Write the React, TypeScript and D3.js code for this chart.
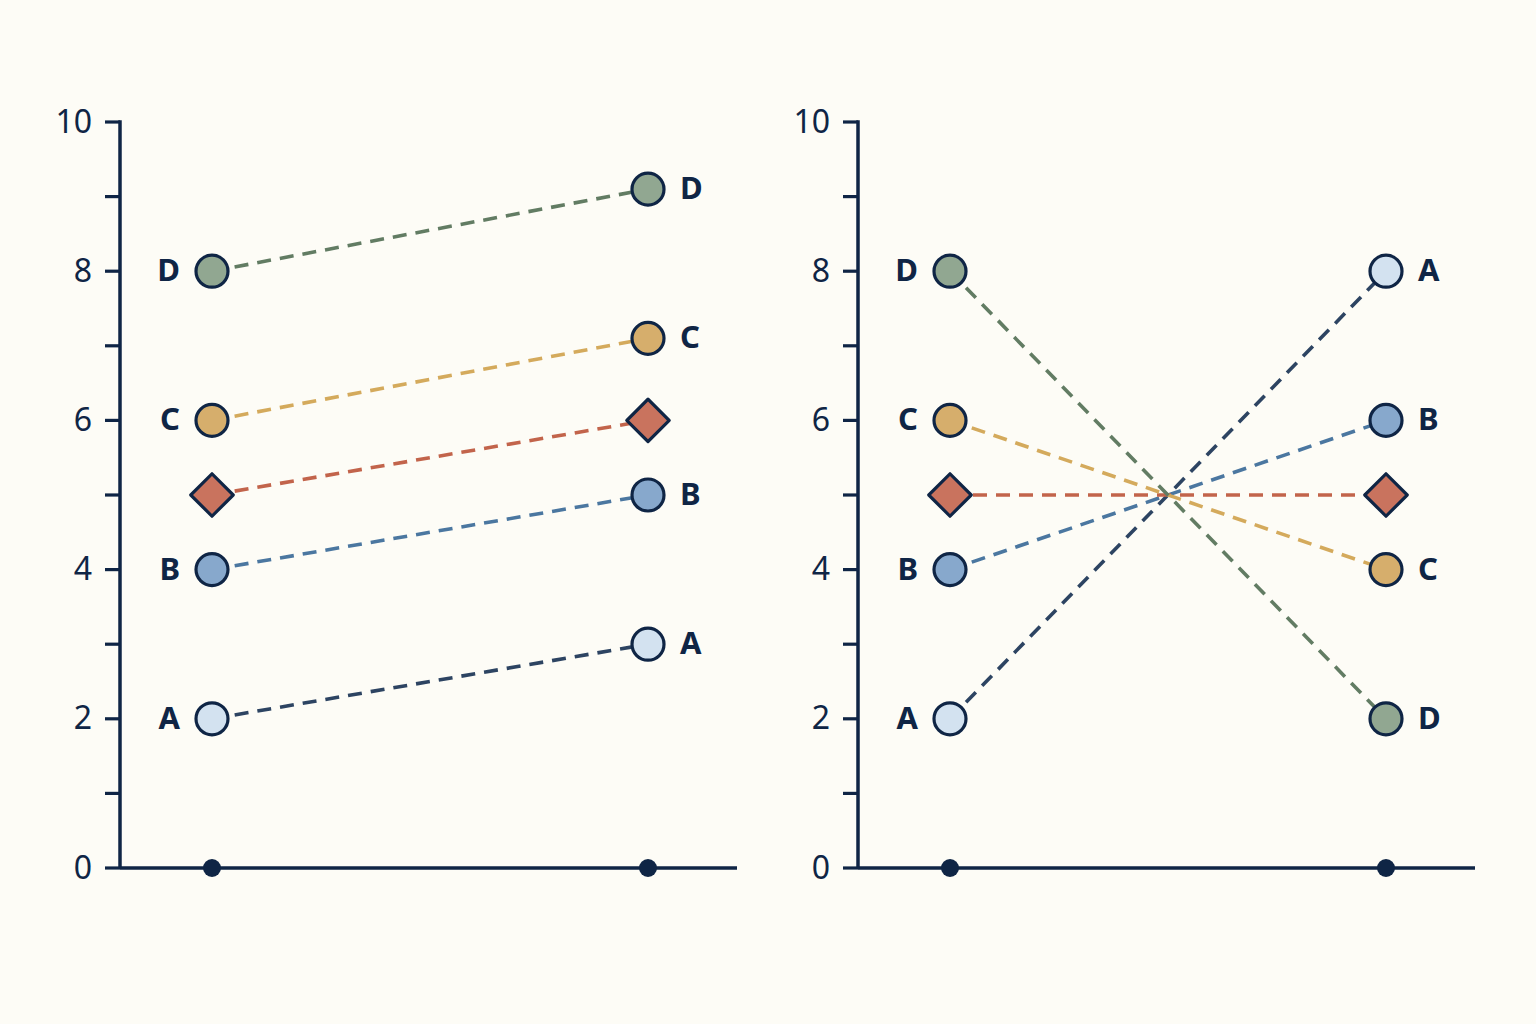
import React from 'react';
import * as d3 from 'd3';

// two panels: same starting values, different endings
const seriesNames = ['A', 'B', 'E', 'C', 'D'];
const leftStart = [2, 4, 5, 6, 8];
const leftEnd = [3, 5, 6, 7.1, 9.1];
const rightStart = [2, 4, 5, 6, 8];
const rightEnd = [8, 6, 5, 4, 2];
const labelled = [true, true, false, true, true];
const yTicks = [0, 1, 2, 3, 4, 5, 6, 7, 8, 9, 10];
const yLabels = [0, 2, 4, 6, 8, 10];

const fills = ['#d3e2f0', '#87a8cc', '#c9735e', '#d6ae6c', '#91a791'];
const strokes = ['#2d4462', '#4b77a0', '#c2644b', '#d4aa5c', '#627c63'];

const ink = '#0f2545';
const W = 1536;
const H = 1024;

const y = d3.scaleLinear().domain([0, 10]).range([868, 122]);

const Panel: React.FC<{ offset: number; start: number[]; end: number[] }> = ({ offset, start, end }) => {
    const axisX = 120 + offset;
    const x = d3.scalePoint<string>().domain(['start', 'end']).range([212 + offset, 648 + offset]);
    const x0 = x('start') as number;
    const x1 = x('end') as number;
    const diamond = d3.symbol().type(d3.symbolSquare).size(900)();

    return (
        <g>
            {/* y axis */}
            <line x1={axisX} x2={axisX} y1={y(10) - 1.75} y2={y(0)} stroke={ink} strokeWidth={3.5} />
            {yTicks.map(t => (
                <line key={t} x1={axisX - 15} x2={axisX} y1={y(t)} y2={y(t)} stroke={ink} strokeWidth={3.2} />
            ))}
            {yLabels.map(t => (
                <text key={'l' + t} x={axisX - 28} y={y(t) - 2} textAnchor="end" dominantBaseline="central"
                    fontFamily="'Noto Sans', sans-serif" fontSize={32} fill={ink}>{t}</text>
            ))}
            {/* x axis */}
            <line x1={axisX} x2={axisX + 617} y1={y(0)} y2={y(0)} stroke={ink} strokeWidth={3.5} />
            <circle cx={x0} cy={y(0)} r={9} fill={ink} />
            <circle cx={x1} cy={y(0)} r={9} fill={ink} />

            {/* connecting lines */}
            {seriesNames.map((s, i) => (
                <line key={'ln' + s} x1={x0} y1={y(start[i])} x2={x1} y2={y(end[i])}
                    stroke={strokes[i]} strokeWidth={3.6} strokeDasharray="14 9" />
            ))}

            {/* markers */}
            {seriesNames.map((s, i) => (
                <g key={'mk' + s}>
                    {s === 'E' ? (
                        <>
                            <path d={diamond} transform={`translate(${x0},${y(start[i])}) rotate(45)`}
                                fill={fills[i]} stroke={ink} strokeWidth={3.2} strokeLinejoin="round" />
                            <path d={diamond} transform={`translate(${x1},${y(end[i])}) rotate(45)`}
                                fill={fills[i]} stroke={ink} strokeWidth={3.2} strokeLinejoin="round" />
                        </>
                    ) : (
                        <>
                            <circle cx={x0} cy={y(start[i])} r={16} fill={fills[i]} stroke={ink} strokeWidth={3.2} />
                            <circle cx={x1} cy={y(end[i])} r={16} fill={fills[i]} stroke={ink} strokeWidth={3.2} />
                        </>
                    )}
                    {labelled[i] && (
                        <>
                            <text x={x0 - 32} y={y(start[i]) - 2} textAnchor="end" dominantBaseline="central"
                                fontFamily="'Noto Sans', sans-serif" fontWeight={700} fontSize={31} fill={ink}>{s}</text>
                            <text x={x1 + 32} y={y(end[i]) - 2} textAnchor="start" dominantBaseline="central"
                                fontFamily="'Noto Sans', sans-serif" fontWeight={700} fontSize={31} fill={ink}>{s}</text>
                        </>
                    )}
                </g>
            ))}
        </g>
    );
};

const App: React.FC = () => {
    return (
        <svg width={W} height={H} viewBox={`0 0 ${W} ${H}`}
            style={{ position: 'fixed', top: 0, left: 0, display: 'block' }}>
            <rect width={W} height={H} fill="#fdfcf6" />
            <Panel offset={0} start={leftStart} end={leftEnd} />
            <Panel offset={738} start={rightStart} end={rightEnd} />
        </svg>
    );
};

export default App;
